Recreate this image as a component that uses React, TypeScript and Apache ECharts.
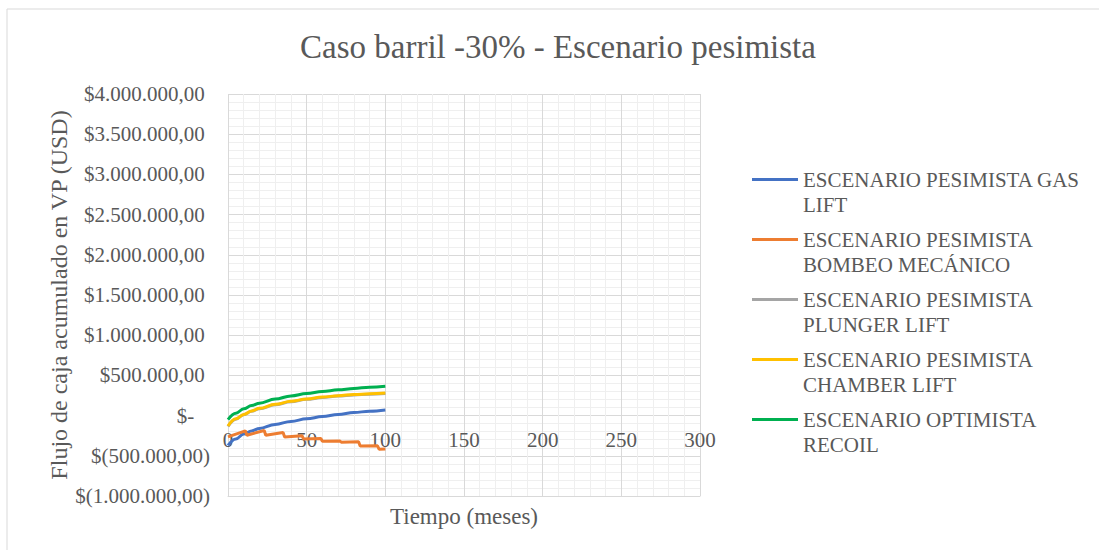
import React, { useEffect, useRef } from "react";
import * as echarts from "echarts";

const FONT = "'Liberation Serif', 'Times New Roman', serif";
const TXT = "#595959";

const seriesNames = [
  "ESCENARIO PESIMISTA GAS LIFT",
  "ESCENARIO PESIMISTA BOMBEO MECÁNICO",
  "ESCENARIO PESIMISTA PLUNGER LIFT",
  "ESCENARIO PESIMISTA CHAMBER LIFT",
  "ESCENARIO OPTIMISTA RECOIL",
];
const legendLabels: Record<string, string> = {
  "ESCENARIO PESIMISTA GAS LIFT": "ESCENARIO PESIMISTA GAS\nLIFT",
  "ESCENARIO PESIMISTA BOMBEO MECÁNICO": "ESCENARIO PESIMISTA\nBOMBEO MECÁNICO",
  "ESCENARIO PESIMISTA PLUNGER LIFT": "ESCENARIO PESIMISTA\nPLUNGER LIFT",
  "ESCENARIO PESIMISTA CHAMBER LIFT": "ESCENARIO PESIMISTA\nCHAMBER LIFT",
  "ESCENARIO OPTIMISTA RECOIL": "ESCENARIO OPTIMISTA\nRECOIL",
};
const seriesColors = ["#4472C4", "#ED7D31", "#A5A5A5", "#FFC000", "#00B050"];

const curveMonths = [0, 5, 10, 15, 20, 30, 40, 50, 60, 70, 80, 90, 100];
const gasLiftValues = [-370000, -290000, -230000, -190000, -160000, -110000, -72000, -40000, -12000, 15000, 38000, 55000, 70000];
const plungerLiftValues = [-135000, -45000, 10000, 53000, 85000, 135000, 173000, 202000, 225000, 243000, 257000, 267000, 275000];
const chamberLiftValues = [-130000, -40000, 15000, 58000, 90000, 140000, 178000, 207000, 230000, 248000, 262000, 272000, 280000];
const recoilValues = [-50000, 30000, 85000, 125000, 155000, 205000, 245000, 275000, 300000, 320000, 338000, 352000, 365000];

const bombeoMonths = [0, 11, 12, 23, 24, 35, 36, 47, 48, 59, 60, 71, 72, 83, 84, 95, 96, 100];
const bombeoValues = [-265000, -190000, -245000, -185000, -245000, -210000, -265000, -250000, -290000, -285000, -320000, -315000, -330000, -325000, -378000, -375000, -418000, -415000];

const yMin = -1000000;
const yMax = 4000000;
const yInterval = 500000;
const yTickLabels = [
  "$(1.000.000,00)",
  "$(500.000,00)",
  "$-",
  "$500.000,00",
  "$1.000.000,00",
  "$1.500.000,00",
  "$2.000.000,00",
  "$2.500.000,00",
  "$3.000.000,00",
  "$3.500.000,00",
  "$4.000.000,00",
];
const xMin = 0;
const xMax = 300;
const xInterval = 50;

const pair = (xs: number[], ys: number[]) => xs.map((x, i) => [x, ys[i]]);
const NBSP = "\u00a0";

export default function App() {
  const ref = useRef<HTMLDivElement>(null);
  useEffect(() => {
    if (!ref.current) return;
    const chart = echarts.init(ref.current, null, { renderer: "svg" });
    const dataSets = [
      pair(curveMonths, gasLiftValues),
      pair(bombeoMonths, bombeoValues),
      pair(curveMonths, plungerLiftValues),
      pair(curveMonths, chamberLiftValues),
      pair(curveMonths, recoilValues),
    ];
    chart.setOption({
      animation: false,
      backgroundColor: "#ffffff",
      textStyle: { fontFamily: FONT },
      title: {
        text: "Caso barril -30% - Escenario pesimista",
        left: 300,
        top: 30,
        padding: 0,
        textStyle: { fontFamily: FONT, fontSize: 33, fontWeight: "normal", color: TXT, lineHeight: 34 },
      },
      graphic: [
        {
          type: "rect",
          shape: { x: 7, y: 9, width: 1200, height: 700 },
          style: { fill: "none", stroke: "#d9d9d9", lineWidth: 1 },
          silent: true,
        },
      ],
      legend: {
        orient: "vertical",
        left: 752,
        top: 167,
        padding: 0,
        itemWidth: 46,
        itemHeight: 28,
        itemGap: 10,
        icon: "path://M0,0H46V3H0Z M0,27.99H0.01V28H0Z",
        data: seriesNames,
        formatter: (name: string) => legendLabels[name] || name,
        textStyle: { fontFamily: FONT, fontSize: 21, color: TXT, lineHeight: 25 },
      },
      grid: { left: 228, top: 94, width: 472, height: 402, containLabel: false, outerBoundsMode: "none" },
      xAxis: {
        type: "value",
        min: xMin,
        max: xMax,
        interval: xInterval,
        name: "Tiempo (meses)",
        nameLocation: "middle",
        nameGap: 9,
        nameTextStyle: { fontFamily: FONT, fontSize: 23, color: TXT },
        axisLine: { show: true, onZero: false, lineStyle: { color: "#d9d9d9", width: 1 } },
        axisTick: { show: false },
        axisLabel: { fontFamily: FONT, fontSize: 21, color: TXT, margin: -67 },
        splitLine: { show: true, lineStyle: { color: "#d9d9d9", width: 1 } },
        minorTick: { show: false, splitNumber: 5 },
        minorSplitLine: { show: true, lineStyle: { color: "#efefef", width: 1 } },
      },
      yAxis: {
        type: "value",
        min: yMin,
        max: yMax,
        interval: yInterval,
        name: "Flujo de caja acumulado en VP (USD)",
        nameLocation: "middle",
        nameGap: 154,
        nameTextStyle: { fontFamily: FONT, fontSize: 24, color: TXT },
        axisLine: { show: false },
        axisTick: { show: false },
        axisLabel: {
          fontFamily: FONT,
          fontSize: 21,
          color: TXT,
          margin: 18,
          formatter: (v: number) => {
            const idx = Math.round((v - yMin) / yInterval);
            const s = yTickLabels[idx] ?? "";
            if (v > 0) return s + NBSP;
            if (v === 0) return s + NBSP + NBSP + NBSP;
            return s;
          },
        },
        splitLine: { show: true, lineStyle: { color: "#d9d9d9", width: 1 } },
        minorTick: { show: false, splitNumber: 5 },
        minorSplitLine: { show: true, lineStyle: { color: "#efefef", width: 1 } },
      },
      series: seriesNames.map((name, i) => ({
        name,
        type: "line",
        data: dataSets[i],
        showSymbol: false,
        symbol: "none",
        smooth: i === 1 ? false : 0.4,
        smoothMonotone: "x",
        color: seriesColors[i],
        lineStyle: { color: seriesColors[i], width: 3 },
        z: 3 + i,
      })),
    });
    return () => chart.dispose();
  }, []);
  return (
    <div
      ref={ref}
      style={{ position: "fixed", left: 0, top: 0, width: 1099, height: 550, background: "#fff" }}
    />
  );
}
